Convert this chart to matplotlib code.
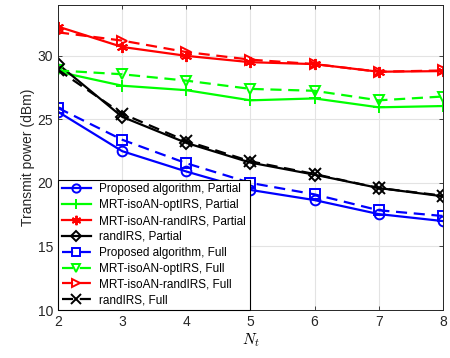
import matplotlib
matplotlib.use("Agg")
import matplotlib.pyplot as plt

plt.rcParams['font.family'] = ['Liberation Sans', 'DejaVu Sans']
plt.rcParams['mathtext.fontset'] = 'cm'

nt = [2, 3, 4, 5, 6, 7, 8]

prop_partial = [25.6, 22.5, 20.9, 19.45, 18.65, 17.55, 17.0]
opt_partial = [28.75, 27.65, 27.3, 26.5, 26.65, 25.95, 26.05]
rand_mrt_partial = [32.3, 30.7, 30.0, 29.5, 29.35, 28.75, 28.8]
randirs_partial = [29.35, 25.2, 23.15, 21.6, 20.65, 19.6, 18.95]

prop_full = [25.9, 23.4, 21.55, 20.0, 19.1, 17.85, 17.4]
opt_full = [28.85, 28.55, 28.05, 27.4, 27.25, 26.5, 26.8]
rand_mrt_full = [31.85, 31.2, 30.3, 29.7, 29.35, 28.75, 28.85]
randirs_full = [28.9, 25.45, 23.3, 21.7, 20.7, 19.6, 19.0]

labels = [
    "Proposed algorithm, Partial",
    "MRT-isoAN-optIRS, Partial",
    "MRT-isoAN-randIRS, Partial",
    "randIRS, Partial",
    "Proposed algorithm, Full",
    "MRT-isoAN-optIRS, Full",
    "MRT-isoAN-randIRS, Full",
    "randIRS, Full",
]

series = [
    (prop_partial, 'b', '-', 'o'),
    (opt_partial, (0, 1, 0), '-', '+'),
    (rand_mrt_partial, 'r', '-', (6, 2, 0)),
    (randirs_partial, 'k', '-', 'D'),
    (prop_full, 'b', '--', 's'),
    (opt_full, (0, 1, 0), '--', 'v'),
    (rand_mrt_full, 'r', '--', '>'),
    (randirs_full, 'k', '--', 'x'),
]

fig = plt.figure(figsize=(4.5, 3.58), dpi=100)
ax = fig.add_axes([0.129, 0.134, 0.855, 0.852])

for (vals, col, ls, mk), lab in zip(series, labels):
    ms = 7
    if mk == 'D':
        ms = 6
    if mk in ('+', 'x', (6, 2, 0)):
        ms = 8
    ax.plot(nt, vals, color=col, linestyle=ls, marker=mk, markersize=ms,
            markerfacecolor='none', markeredgewidth=1.4, linewidth=1.6,
            dashes=(5, 3) if ls == '--' else (None, None), label=lab)

ax.set_xlim(2, 8)
ax.set_ylim(10, 34)
ax.set_xticks(nt)
ax.set_yticks([10, 15, 20, 25, 30])
ax.grid(True, color='#e3e3e3', linewidth=0.8)
ax.set_axisbelow(True)
ax.tick_params(direction='in', top=True, right=True, labelsize=10,
               length=3, width=0.6, colors='#262626', labelcolor='#262626')
for sp in ax.spines.values():
    sp.set_color('#262626')
    sp.set_linewidth(0.7)

ax.set_xlabel('$N_t$', fontsize=11, labelpad=2)
ax.set_ylabel('Transmit power (dBm)', fontsize=10, color='#262626', labelpad=2)

leg = ax.legend(loc='lower left', fontsize=8.5, frameon=True, fancybox=False,
                borderaxespad=0.0, handlelength=2.5, handletextpad=0.7,
                labelspacing=0.33, borderpad=0.3, markerscale=0.85)
leg.get_frame().set_edgecolor('k')
leg.get_frame().set_linewidth(0.8)
leg.get_frame().set_alpha(1)

fig.savefig('out.png', dpi=100)
